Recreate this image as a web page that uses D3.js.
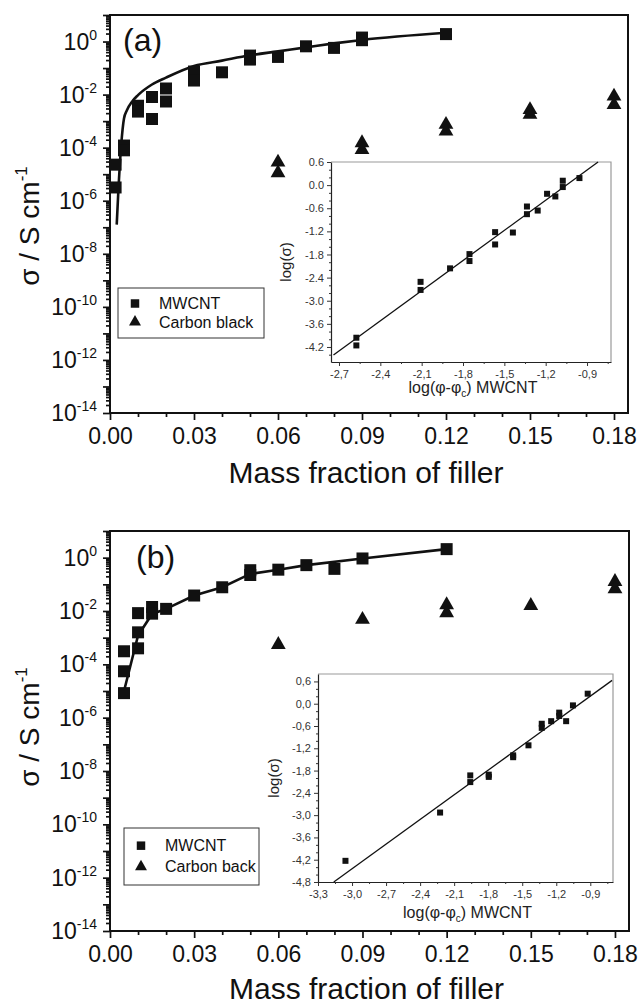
<!DOCTYPE html>
<meta charset="utf-8">
<script src="https://d3js.org/d3.v7.min.js"></script>
<body style="margin:0;background:#fff">
<svg width="638" height="1007"></svg>
<script>
  // ---- panel (a): mass fraction vs log10(sigma) ----
  var cntX_a   = [0.002, 0.002, 0.005, 0.005, 0.01, 0.01, 0.015, 0.015, 0.02, 0.02, 0.03, 0.03, 0.04, 0.05, 0.05, 0.06, 0.07, 0.08, 0.09, 0.09, 0.12];
  var cntLog_a = [-4.64, -5.5, -3.92, -4.1, -2.42, -2.64, -2.09, -2.92, -1.77, -2.26, -1.13, -1.47, -1.16, -0.53, -0.68, -0.58, -0.18, -0.24, 0.15, 0.05, 0.28];
  var cbX_a    = [0.06, 0.06, 0.09, 0.09, 0.12, 0.12, 0.15, 0.15, 0.18, 0.18];
  var cbLog_a  = [-4.55, -4.95, -3.82, -4.08, -3.13, -3.38, -2.57, -2.75, -2.06, -2.38];
  var fitX_a   = [0.0024, 0.003, 0.004, 0.005, 0.006, 0.008, 0.01, 0.015, 0.02, 0.03, 0.04, 0.05, 0.06, 0.07, 0.08, 0.09, 0.12];
  var fitLog_a = [-6.9, -5.6, -3.9, -2.9, -2.6, -2.25, -2.02, -1.62, -1.36, -0.92, -0.72, -0.52, -0.37, -0.22, -0.07, 0.06, 0.33];

  // inset (a): log(phi - phi_c) vs log(sigma)
  var insX_a = [-2.574, -2.574, -2.108, -2.108, -1.894, -1.753, -1.753, -1.567, -1.567, -1.438, -1.336, -1.336, -1.258, -1.19, -1.13, -1.076, -1.076, -0.955];
  var insY_a = [-3.96, -4.16, -2.51, -2.72, -2.16, -1.79, -1.97, -1.22, -1.54, -1.23, -0.555, -0.754, -0.66, -0.225, -0.294, 0.114, -0.05, 0.183];
  var insLineX_a = [-2.74, -0.82];
  var insLineY_a = [-4.41, 0.6];

  // ---- panel (b) ----
  var cntX_b   = [0.005, 0.005, 0.005, 0.01, 0.01, 0.01, 0.015, 0.015, 0.02, 0.03, 0.04, 0.05, 0.05, 0.06, 0.07, 0.08, 0.09, 0.12];
  var cntLog_b = [-3.51, -4.26, -5.08, -2.08, -2.8, -3.4, -1.85, -2.1, -1.92, -1.42, -1.11, -0.47, -0.65, -0.45, -0.28, -0.42, -0.03, 0.32];
  var cbX_b    = [0.06, 0.09, 0.12, 0.12, 0.15, 0.18, 0.18];
  var cbLog_b  = [-3.26, -2.32, -1.77, -2.07, -1.8, -0.9, -1.17];
  var fitX_b   = [0.005, 0.01, 0.015, 0.02, 0.03, 0.04, 0.05, 0.06, 0.07, 0.09, 0.12];
  var fitLog_b = [-5.0, -2.92, -2.11, -1.92, -1.42, -1.11, -0.61, -0.45, -0.28, -0.03, 0.32];

  var insX_b = [-3.058, -2.224, -1.958, -1.958, -1.795, -1.795, -1.58, -1.58, -1.445, -1.328, -1.328, -1.245, -1.174, -1.174, -1.113, -1.053, -0.923];
  var insY_b = [-4.23, -2.93, -1.93, -2.11, -1.91, -1.97, -1.39, -1.44, -1.12, -0.54, -0.65, -0.47, -0.24, -0.33, -0.47, -0.045, 0.27];
  var insLineX_b = [-3.161, -0.708];
  var insLineY_b = [-4.8, 0.628];

  // ticks
  var xMajor = [0, 0.03, 0.06, 0.09, 0.12, 0.15, 0.18];
  var xMinor = [0.01, 0.02, 0.04, 0.05, 0.07, 0.08, 0.1, 0.11, 0.13, 0.14, 0.16, 0.17];
  var yDecades = d3.range(-14, 2);           // exponents with a major tick
  var yLabelled = [-14, -12, -10, -8, -6, -4, -2, 0];

  var FONT = 'Liberation Sans, Arial, Helvetica, sans-serif';
  var svg = d3.select('svg').style('font-family', FONT);

  function zip(xs, ys){ return xs.map(function(v, i){ return [v, ys[i]]; }); }

  function drawPanel(p){
    var g = svg.append('g');
    var x = d3.scaleLinear().domain([0, 0.185]).range([p.left, p.right]);
    var y = d3.scaleLog().domain([1e-14, 10]).range([p.bottom, p.top]);

    /* ----------- frame ----------- */
    g.append('rect')
      .attr('x', p.left).attr('y', p.top)
      .attr('width', p.right - p.left).attr('height', p.bottom - p.top)
      .attr('fill', 'none').attr('stroke', '#111').attr('stroke-width', 2);

    /* ----------- x axis ----------- */
    var xa = g.append('g').attr('transform', 'translate(0,' + p.bottom + ')')
      .call(d3.axisBottom(x).tickValues(xMajor).tickSize(7).tickSizeOuter(0).tickPadding(8)
        .tickFormat(function(d){ return d.toFixed(2); }));
    g.append('g').attr('transform', 'translate(0,' + p.bottom + ')')
      .call(d3.axisBottom(x).tickValues(xMinor).tickSize(4).tickSizeOuter(0).tickFormat(''))
      .select('.domain').remove();
    xa.select('.domain').remove();
    xa.selectAll('text').attr('font-size', 23).attr('fill', '#111').attr('font-family', FONT);

    /* ----------- y axis (log) ----------- */
    var minors = [];
    d3.range(-14, 1).forEach(function(e){
      d3.range(2, 10).forEach(function(k){ minors.push(k * Math.pow(10, e)); });
    });
    var ya = g.append('g').attr('transform', 'translate(' + p.left + ',0)')
      .call(d3.axisLeft(y).tickValues(yDecades.map(function(e){ return Math.pow(10, e); }))
        .tickSize(7).tickSizeOuter(0).tickFormat(''));
    g.append('g').attr('transform', 'translate(' + p.left + ',0)')
      .call(d3.axisLeft(y).tickValues(minors).tickSize(4).tickSizeOuter(0).tickFormat(''))
      .select('.domain').remove();
    ya.select('.domain').remove();
    g.selectAll('.tick line').attr('stroke', '#111').attr('stroke-width', 1.7);

    yLabelled.forEach(function(e){
      var t = g.append('text')
        .attr('x', p.left - 13).attr('y', y(Math.pow(10, e)))
        .attr('dy', '0.35em').attr('text-anchor', 'end')
        .attr('font-size', 23).attr('fill', '#111');
      t.append('tspan').text('10');
      t.append('tspan').attr('dy', -10).attr('font-size', 14).text(e === 0 ? '0' : '-' + (-e));
    });

    /* ----------- titles ----------- */
    var yt = g.append('text')
      .attr('transform', 'translate(39,' + p.yTitleY + ') rotate(-90)')
      .attr('text-anchor', 'middle').attr('font-size', 28).attr('fill', '#111');
    yt.append('tspan').text('\u03c3 / S cm');
    yt.append('tspan').attr('dy', -12).attr('font-size', 17).text('-1');

    g.append('text')
      .attr('x', (p.left + p.right) / 2 - 3).attr('y', p.xTitleY)
      .attr('text-anchor', 'middle').attr('font-size', 30).attr('fill', '#111')
      .text('Mass fraction of filler');

    g.append('text')
      .attr('x', p.tagX).attr('y', p.tagY)
      .attr('font-size', 32).attr('fill', '#111')
      .text(p.tag);

    /* ----------- fit line ----------- */
    var line = d3.line()
      .x(function(d){ return x(d[0]); })
      .y(function(d){ return y(Math.pow(10, d[1])); })
      .curve(p.smooth ? d3.curveMonotoneX : d3.curveLinear);
    g.append('path')
      .datum(zip(p.fitX, p.fitLog))
      .attr('d', line)
      .attr('fill', 'none').attr('stroke', '#111').attr('stroke-width', 2.6);

    /* ----------- markers ----------- */
    var sq = d3.symbol().type(d3.symbolSquare).size(144);
    var tri = d3.symbol().type(d3.symbolTriangle).size(95);

    g.selectAll('path.cnt').data(zip(p.cntX, p.cntLog)).enter()
      .append('path').attr('class', 'cnt')
      .attr('d', sq)
      .attr('transform', function(d){ return 'translate(' + x(d[0]) + ',' + y(Math.pow(10, d[1])) + ')'; })
      .attr('fill', '#111');

    g.selectAll('path.cb').data(zip(p.cbX, p.cbLog)).enter()
      .append('path').attr('class', 'cb')
      .attr('d', tri)
      .attr('transform', function(d){ return 'translate(' + x(d[0]) + ',' + y(Math.pow(10, d[1])) + ')'; })
      .attr('fill', '#111');

    /* ----------- legend ----------- */
    var L = p.legend;
    g.append('rect')
      .attr('x', L.x).attr('y', L.y).attr('width', L.w).attr('height', L.h)
      .attr('fill', '#fff').attr('stroke', '#333').attr('stroke-width', 1);
    g.append('path').attr('d', d3.symbol().type(d3.symbolSquare).size(72))
      .attr('transform', 'translate(' + (L.x + 17) + ',' + (L.y + L.h * 0.31) + ')').attr('fill', '#111');
    g.append('path').attr('d', d3.symbol().type(d3.symbolTriangle).size(62))
      .attr('transform', 'translate(' + (L.x + 17) + ',' + (L.y + L.h * 0.68) + ')').attr('fill', '#111');
    g.append('text').attr('x', L.x + 41).attr('y', L.y + L.h * 0.31).attr('dy', '0.35em')
      .attr('font-size', 16).attr('fill', '#111').text('MWCNT');
    g.append('text').attr('x', L.x + 41).attr('y', L.y + L.h * 0.68).attr('dy', '0.35em')
      .attr('font-size', 16).attr('fill', '#111').text(L.second);

    drawInset(p.inset);
  }

  function fmt(d, comma){
    var s = (Math.round(d * 10) / 10).toFixed(1);
    if (s === '-0.0') s = '0.0';
    return comma ? s.replace('.', ',') : s;
  }

  function drawInset(q){
    var g = svg.append('g');
    var x = d3.scaleLinear().domain(q.xDomain).range([q.left, q.right]);
    var y = d3.scaleLinear().domain(q.yDomain).range([q.bottom, q.top]);

    g.append('rect')
      .attr('x', q.left).attr('y', q.top)
      .attr('width', q.right - q.left).attr('height', q.bottom - q.top)
      .attr('fill', '#fff');
    // top and right edges are light grey
    g.append('path')
      .attr('d', 'M' + q.left + ',' + q.top + 'H' + q.right + 'V' + q.bottom)
      .attr('fill', 'none').attr('stroke', '#9a9a9a').attr('stroke-width', 1.2);

    var xa = g.append('g').attr('transform', 'translate(0,' + q.bottom + ')')
      .call(d3.axisBottom(x).tickValues(q.xTicks).tickSize(4).tickSizeOuter(0).tickPadding(4)
        .tickFormat(function(d){ return fmt(d, q.xComma); }));
    g.append('g').attr('transform', 'translate(0,' + q.bottom + ')')
      .call(d3.axisBottom(x).tickValues(q.xMinor).tickSize(2).tickSizeOuter(0).tickFormat(''))
      .select('.domain').remove();
    var ya = g.append('g').attr('transform', 'translate(' + q.left + ',0)')
      .call(d3.axisLeft(y).tickValues(q.yTicks).tickSize(4).tickSizeOuter(0).tickPadding(3)
        .tickFormat(function(d){ return fmt(d, q.yComma); }));
    g.append('g').attr('transform', 'translate(' + q.left + ',0)')
      .call(d3.axisLeft(y).tickValues(q.yMinor).tickSize(2).tickSizeOuter(0).tickFormat(''))
      .select('.domain').remove();
    g.selectAll('.domain').attr('stroke', '#222').attr('stroke-width', 1.2);
    g.selectAll('.tick line').attr('stroke', '#333');
    g.selectAll('.tick text').attr('font-size', 11).attr('fill', '#333').attr('font-family', FONT);

    g.append('line')
      .attr('x1', x(q.lineX[0])).attr('y1', y(q.lineY[0]))
      .attr('x2', x(q.lineX[1])).attr('y2', y(q.lineY[1]))
      .attr('stroke', '#111').attr('stroke-width', 1.3);

    g.selectAll('rect.pt').data(zip(q.px, q.py)).enter()
      .append('rect').attr('class', 'pt')
      .attr('x', function(d){ return x(d[0]) - 3; })
      .attr('y', function(d){ return y(d[1]) - 3; })
      .attr('width', 6).attr('height', 6)
      .attr('fill', '#111');

    var xt = g.append('text')
      .attr('x', (q.left + q.right) / 2 + 2).attr('y', q.xTitleY)
      .attr('text-anchor', 'middle').attr('font-size', 16).attr('fill', '#222');
    xt.append('tspan').text('log(\u03c6-\u03c6');
    xt.append('tspan').attr('dy', 4).attr('font-size', 10).text('c');
    xt.append('tspan').attr('dy', -4).text(') MWCNT');

    g.append('text')
      .attr('transform', 'translate(' + q.yTitleX + ',' + (q.top + q.bottom) / 2 + ') rotate(-90)')
      .attr('text-anchor', 'middle').attr('font-size', 15).attr('fill', '#222')
      .text('log(\u03c3)');
  }

  drawPanel({
    left: 110, right: 628, top: 15, bottom: 413,
    yTitleY: 226, xTitleY: 483, tag: '(a)', tagX: 123, tagY: 51,
    smooth: true,
    cntX: cntX_a, cntLog: cntLog_a, cbX: cbX_a, cbLog: cbLog_a, fitX: fitX_a, fitLog: fitLog_a,
    legend: {x: 118, y: 288, w: 146, h: 50, second: 'Carbon black'},
    inset: {
      left: 331, right: 611, top: 162, bottom: 362,
      xDomain: [-2.758, -0.726], yDomain: [-4.59, 0.6],
      xTicks: [-2.7, -2.4, -2.1, -1.8, -1.5, -1.2, -0.9],
      xMinor: [-2.55, -2.25, -1.95, -1.65, -1.35, -1.05, -0.75],
      yTicks: [0.6, 0, -0.6, -1.2, -1.8, -2.4, -3.0, -3.6, -4.2],
      yMinor: [0.4, 0.2, -0.2, -0.4, -0.8, -1.0, -1.4, -1.6, -2.0, -2.2, -2.6, -2.8, -3.2, -3.4, -3.8, -4.0, -4.4],
      xComma: true, yComma: false,
      px: insX_a, py: insY_a, lineX: insLineX_a, lineY: insLineY_a,
      xTitleY: 393, yTitleX: 291
    }
  });

  drawPanel({
    left: 110, right: 629, top: 531, bottom: 931,
    yTitleY: 727, xTitleY: 999, tag: '(b)', tagX: 136, tagY: 568,
    smooth: false,
    cntX: cntX_b, cntLog: cntLog_b, cbX: cbX_b, cbLog: cbLog_b, fitX: fitX_b, fitLog: fitLog_b,
    legend: {x: 124, y: 828, w: 135, h: 57, second: 'Carbon back'},
    inset: {
      left: 318, right: 613, top: 674, bottom: 882,
      xDomain: [-3.3, -0.7], yDomain: [-4.8, 0.8],
      xTicks: [-3.3, -3.0, -2.7, -2.4, -2.1, -1.8, -1.5, -1.2, -0.9],
      xMinor: [-3.15, -2.85, -2.55, -2.25, -1.95, -1.65, -1.35, -1.05, -0.75],
      yTicks: [0.6, 0, -0.6, -1.2, -1.8, -2.4, -3.0, -3.6, -4.2, -4.8],
      yMinor: [0.4, 0.2, -0.2, -0.4, -0.8, -1.0, -1.4, -1.6, -2.0, -2.2, -2.6, -2.8, -3.2, -3.4, -3.8, -4.0, -4.4, -4.6],
      xComma: true, yComma: true,
      px: insX_b, py: insY_b, lineX: insLineX_b, lineY: insLineY_b,
      xTitleY: 918, yTitleX: 279
    }
  });
</script>
</body>
